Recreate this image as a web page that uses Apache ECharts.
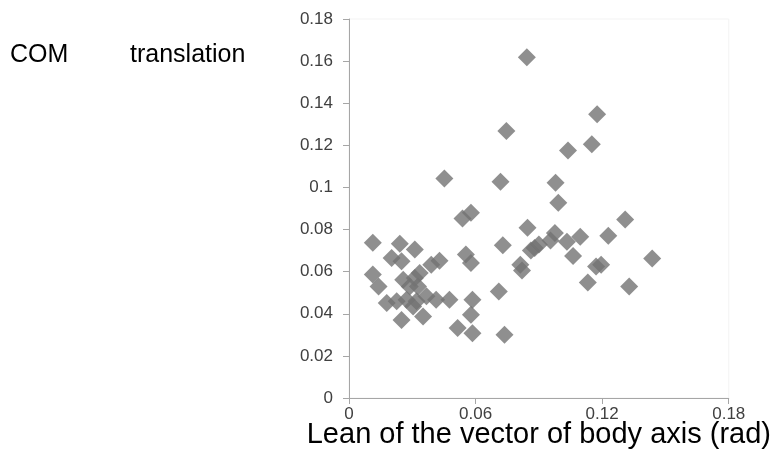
<!DOCTYPE html>
<html lang="en">
<head>
    <meta charset="UTF-8">
    <title>COM translation vs lean</title>
    <script type="text/javascript" src="https://cdn.jsdelivr.net/npm/echarts@6/dist/echarts.min.js"></script>
</head>
<body style="margin:0;background:#fff;">
<div id="main" style="width: 774px; height: 466px;"></div>
<script type="text/javascript">
    "use strict"
    // lean of body axis vector (rad)
    var leanValues = [
        0.0113, 0.0113, 0.0140, 0.0179, 0.0226, 0.0202, 0.0241, 0.0249, 0.0257, 0.0249,
        0.0273, 0.0288, 0.0312, 0.0312, 0.0304, 0.0320, 0.0327, 0.0335, 0.0351, 0.0367,
        0.0390, 0.0413, 0.0429, 0.0452, 0.0476, 0.0515, 0.0538, 0.0578, 0.0554, 0.0578,
        0.0585, 0.0578, 0.0585, 0.0710, 0.0718, 0.0729, 0.0737, 0.0746, 0.0843, 0.0812,
        0.0820, 0.0862, 0.0846, 0.0900, 0.0955, 0.0976, 0.0979, 0.0992, 0.1033, 0.1038,
        0.1096, 0.1062, 0.1151, 0.1176, 0.1229, 0.1309, 0.1437, 0.1195, 0.1171, 0.1132,
        0.1328, 0.0880
    ];
    // COM translation
    var comValues = [
        0.0737, 0.0586, 0.0530, 0.0451, 0.0459, 0.0665, 0.0732, 0.0649, 0.0562, 0.0371,
        0.0467, 0.0530, 0.0705, 0.0570, 0.0435, 0.0459, 0.0530, 0.0594, 0.0387, 0.0483,
        0.0633, 0.0467, 0.0652, 0.1042, 0.0467, 0.0332, 0.0852, 0.0880, 0.0681, 0.0641,
        0.0308, 0.0395, 0.0467, 0.0506, 0.1027, 0.0725, 0.0300, 0.1268, 0.1618, 0.0633,
        0.0605, 0.0700, 0.0808, 0.0729, 0.0748, 0.0784, 0.1022, 0.0927, 0.0742, 0.1176,
        0.0766, 0.0675, 0.1205, 0.1348, 0.0771, 0.0848, 0.0662, 0.0633, 0.0625, 0.0549,
        0.0530, 0.0712
    ];
    var xTicks = { min: 0, max: 0.18, interval: 0.06 };
    var yTicks = { min: 0, max: 0.18, interval: 0.02 };

    var points = leanValues.map(function (x, i) {
        return [x, comValues[i]];
    });

    var myChart = echarts.init(document.getElementById('main'));
    var axisGray = '#a6a6a6';
    var option = {
        animation: false,
        grid: {
            left: 349,
            right: 42,
            top: 19,
            bottom: 68,
            show: true,
            borderColor: '#f3f3f3',
            borderWidth: 1
        },
        graphic: [
            {
                type: 'text', left: 10, top: 43,
                style: { text: 'COM', fontSize: 25, fontFamily: 'Liberation Sans', fill: '#000' }
            },
            {
                type: 'text', left: 130, top: 43,
                style: { text: 'translation', fontSize: 25, fontFamily: 'Liberation Sans', fill: '#000' }
            }
        ],
        xAxis: {
            type: 'value',
            min: xTicks.min,
            max: xTicks.max,
            interval: xTicks.interval,
            name: 'Lean of the vector of body axis (rad)',
            nameLocation: 'middle',
            nameGap: 22,
            nameMoveOverlap: false,
            nameTextStyle: { fontSize: 29, fontFamily: 'Liberation Sans', color: '#000', verticalAlign: 'top' },
            splitLine: { show: false },
            axisLine: { lineStyle: { color: axisGray, width: 1 } },
            axisTick: { show: true, length: 6, lineStyle: { color: axisGray } },
            axisLabel: { margin: 8, fontSize: 17, fontFamily: 'Liberation Sans', color: '#404040' }
        },
        yAxis: {
            type: 'value',
            min: yTicks.min,
            max: yTicks.max,
            interval: yTicks.interval,
            splitLine: { show: false },
            axisLine: { show: true, lineStyle: { color: axisGray, width: 1 } },
            axisTick: { show: true, length: 6, lineStyle: { color: axisGray } },
            axisLabel: { margin: 16, fontSize: 17, fontFamily: 'Liberation Sans', color: '#404040' }
        },
        series: [
            {
                type: 'scatter',
                symbol: 'diamond',
                symbolSize: [18, 18],
                data: points,
                itemStyle: { color: '#737373' }
            }
        ]
    };
    myChart.setOption(option);
</script>
</body>
</html>
